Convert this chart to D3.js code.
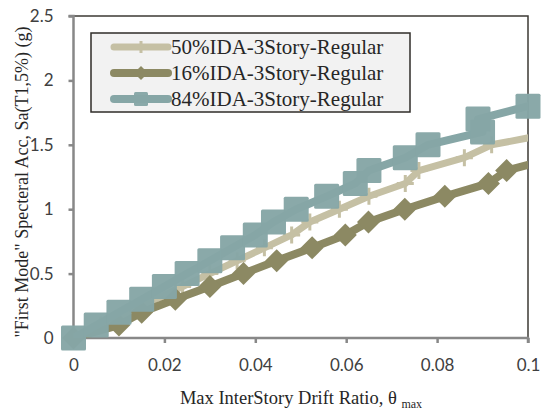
<!DOCTYPE html>
<html>
<head>
<meta charset="utf-8">
<script src="https://cdn.jsdelivr.net/npm/d3@7/dist/d3.min.js"></script>
<style>
  body { margin: 0; background: #fff; }
  .tick text { font-family: Lato, "Open Sans", sans-serif; font-size: 17px; fill: #404040; }
  .serif { font-family: "Liberation Serif", "DejaVu Serif", serif; fill: #262626; }
</style>
</head>
<body>
<svg class="chart"></svg>
<script>
// drift ratio (x) vs Sa (y) for the three fractile curves
var x50 = [0, 0.006, 0.012, 0.018, 0.024, 0.030, 0.036, 0.042, 0.048, 0.052, 0.0585, 0.065, 0.073, 0.076, 0.086, 0.092, 0.107];
var y50 = [0, 0.1, 0.2, 0.3, 0.4, 0.5, 0.6, 0.7, 0.8, 0.9, 1.0, 1.1, 1.2, 1.3, 1.4, 1.5, 1.6];

var x16 = [0, 0.010, 0.015, 0.0224, 0.030, 0.0374, 0.0447, 0.0525, 0.0598, 0.0649, 0.0729, 0.0817, 0.0913, 0.0953, 0.106];
var y16 = [0, 0.1, 0.2, 0.3, 0.4, 0.5, 0.6, 0.7, 0.8, 0.9, 1.0, 1.1, 1.2, 1.3, 1.4];

var x84 = [0, 0.005, 0.010, 0.015, 0.020, 0.025, 0.030, 0.035, 0.040, 0.044, 0.049, 0.0557, 0.062, 0.065, 0.073, 0.078, 0.090, 0.089, 0.100];
var y84 = [0, 0.1, 0.2, 0.3, 0.4, 0.5, 0.6, 0.7, 0.8, 0.9, 1.0, 1.1, 1.2, 1.3, 1.4, 1.5, 1.6, 1.7, 1.8];

var seriesNames = ['50%IDA-3Story-Regular', '16%IDA-3Story-Regular', '84%IDA-3Story-Regular'];
var xTicks = [0, 0.02, 0.04, 0.06, 0.08, 0.1];
var yTicks = [0, 0.5, 1, 1.5, 2, 2.5];

var margin = {top: 16, right: 18, bottom: 76, left: 73.5},
	width = 546 - margin.left - margin.right,
	height = 414 - margin.top - margin.bottom;

var chart = d3.select('.chart')
	.attr('width', 546)
	.attr('height', 414);

var x = d3.scaleLinear().domain([0, 0.1]).range([0, width]),
	y = d3.scaleLinear().domain([0, 2.5]).range([height, 0]);

var g = chart.append('g')
	.attr('transform', 'translate(' + margin.left + ',' + margin.top + ')');

function zip(xs, ys) { return xs.map(function(v, i) { return {x: v, y: ys[i]}; }); }

var series = [
	{name: seriesNames[0], data: zip(x50, y50), color: '#c5c0a4', width: 7, marker: 'plus'},
	{name: seriesNames[1], data: zip(x16, y16), color: '#8c8963', width: 8, marker: 'diamond'},
	{name: seriesNames[2], data: zip(x84, y84), color: '#86a6a6', width: 8, marker: 'square'}
];

// top / right frame
g.append('path')
	.attr('d', 'M0,0H' + width + 'V' + height)
	.attr('fill', 'none')
	.attr('stroke', '#3d3a35')
	.attr('stroke-width', 1.5);

// axes
var xAxis = d3.axisBottom(x).tickValues(xTicks).tickSize(5).tickPadding(16)
		.tickFormat(function(d) { return d === 0 ? '0' : String(+d.toFixed(2)); }),
	yAxis = d3.axisLeft(y).tickValues(yTicks).tickSize(5).tickPadding(15)
		.tickFormat(function(d) { return String(d); });

function styleAxis(a) {
	a.select('.domain').attr('stroke', '#888').attr('stroke-width', 2.5);
	a.selectAll('.tick line').attr('stroke', '#888').attr('stroke-width', 2.5);
}

g.append('g').attr('transform', 'translate(0,' + height + ')').call(xAxis).call(styleAxis)
	.select('.domain').attr('d', 'M0,5V0H' + width + 'V5');
g.append('g').call(yAxis).call(styleAxis)
	.select('.domain').attr('d', 'M-5,0H0V' + height + 'H-5');

g.append('clipPath').attr('id', 'clip')
  .append('rect').attr('width', width).attr('height', height + 10).attr('y', -10);

var line = d3.line().x(function(d) { return x(d.x); }).y(function(d) { return y(d.y); });

function drawMarker(sel, type, color, s) {
	if (type === 'square') {
		sel.append('rect').attr('x', -s / 2).attr('y', -s / 2).attr('width', s).attr('height', s)
			.attr('rx', 1.5).attr('fill', color).attr('fill-opacity', 0.97);
	} else if (type === 'diamond') {
		var h = s / 2;
		sel.append('path').attr('d', 'M0,' + (-h) + 'L' + h + ',0L0,' + h + 'L' + (-h) + ',0Z')
			.attr('fill', color);
	} else {
		sel.append('path').attr('d', 'M0,' + (-s / 2) + 'V' + (s / 2) + 'M' + (-s / 2) + ',0H' + (s / 2))
			.attr('stroke', color).attr('stroke-width', 3);
	}
}

var markerSize = {square: 25, diamond: 23, plus: 17};

series.forEach(function(s) {
	g.append('path')
		.datum(s.data)
		.attr('clip-path', 'url(#clip)')
		.attr('fill', 'none')
		.attr('stroke', s.color)
		.attr('stroke-width', s.width)
		.attr('stroke-linejoin', 'round')
		.attr('stroke-linecap', 'round')
		.attr('d', line);

	g.selectAll('.m' + s.marker)
		.data(s.data.filter(function(d) { return d.x <= 0.1; }))
	  .enter().append('g')
		.attr('class', 'm' + s.marker)
		.attr('transform', function(d) { return 'translate(' + x(d.x) + ',' + y(d.y) + ')'; })
		.each(function() { drawMarker(d3.select(this), s.marker, s.color, markerSize[s.marker]); });
});

// legend
var legend = g.append('g').attr('transform', 'translate(' + (91 - margin.left) + ',' + (33 - margin.top) + ')');
legend.append('rect')
	.attr('width', 319).attr('height', 79)
	.attr('fill', '#f2f2f2').attr('stroke', '#2f2c28').attr('stroke-width', 1.5);

series.forEach(function(s, i) {
	var row = legend.append('g').attr('transform', 'translate(0,' + (14 + i * 26) + ')');
	row.append('line').attr('x1', 23).attr('x2', 77)
		.attr('stroke', s.color).attr('stroke-width', s.width).attr('stroke-linecap', 'round');
	drawMarker(row.append('g').attr('transform', 'translate(50,0)'), s.marker, s.color,
		s.marker === 'plus' ? 12 : 14);
	row.append('text').attr('class', 'serif')
		.attr('x', 80).attr('dy', '0.35em')
		.style('font-size', '21px')
		.text(s.name);
});

// axis titles
var xt = chart.append('text').attr('class', 'serif')
	.attr('x', 301).attr('y', 404)
	.attr('text-anchor', 'middle')
	.style('font-size', '18.5px');
xt.append('tspan').text('Max InterStory Drift Ratio, \u03b8 ');
xt.append('tspan').attr('dy', 4).style('font-size', '12px').text('max');

chart.append('text').attr('class', 'serif')
	.attr('transform', 'translate(28,' + (margin.top + height / 2 + 5) + ') rotate(-90)')
	.attr('text-anchor', 'middle')
	.style('font-size', '18px')
	.text('"First Mode" Specteral Acc, Sa(T1,5%) (g)');
</script>
</body>
</html>
